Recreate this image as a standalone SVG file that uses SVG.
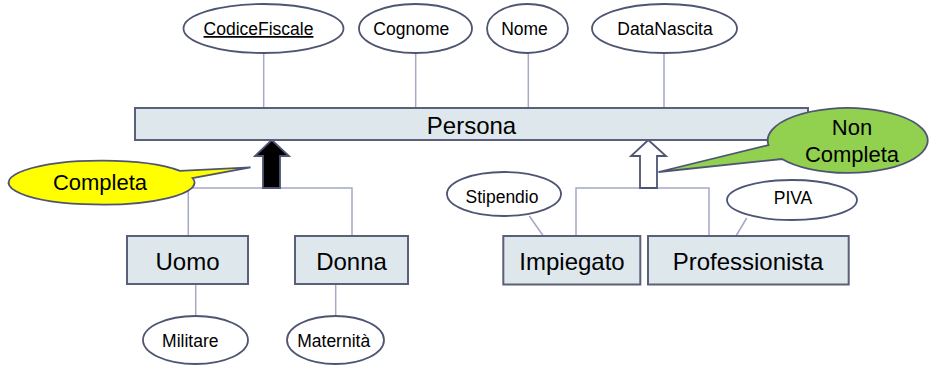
<svg xmlns="http://www.w3.org/2000/svg" width="931" height="366" viewBox="0 0 931 366">
<style>
.ent{fill:#DDE7EC;stroke:#5A6079;stroke-width:2}
.att{fill:#FFFFFF;stroke:#4E5573;stroke-width:1.8}
.conn{fill:none;stroke:#A3A9C6;stroke-width:1.5}
.et{font-family:"Liberation Sans",Arial,sans-serif;font-size:24px;fill:#000;text-anchor:middle}
.at{font-family:"Liberation Sans",Arial,sans-serif;font-size:17.5px;fill:#000;text-anchor:middle}
.ct{font-family:"Liberation Sans",Arial,sans-serif;font-size:22px;fill:#000;text-anchor:middle}
.callout{stroke:#4E5573;stroke-width:1.8}
</style>
<rect width="931" height="366" fill="#FFFFFF"/>
<g id="connectors">
<line class="conn" x1="263.7" y1="53" x2="263.7" y2="108"/>
<line class="conn" x1="415.7" y1="53" x2="415.7" y2="108"/>
<line class="conn" x1="528.3" y1="53" x2="528.3" y2="108"/>
<line class="conn" x1="664" y1="53" x2="664" y2="108"/>
<polyline class="conn" points="188.3,236 188.3,188 352,188 352,236"/>
<polyline class="conn" points="576,236 576,188 709,188 709,236"/>
<line class="conn" x1="195.7" y1="284" x2="195.7" y2="316"/>
<line class="conn" x1="335.7" y1="284" x2="335.7" y2="316"/>
<line class="conn" x1="529.3" y1="216" x2="543.3" y2="236"/>
<line class="conn" x1="746.7" y1="218" x2="736" y2="236"/>
<polygon id="arrow-completa" points="271.7,140 289,156 280,156 280,188 263,188 263,156 255,156" fill="#000000" stroke="#4E5573" stroke-width="1.8"/>
<polygon id="arrow-noncompleta" points="648.3,140 666,156 657,156 657,188 640,188 640,156 631,156" fill="#FFFFFF" stroke="#4E5573" stroke-width="1.8"/>
</g>
<g id="Persona">
<rect class="ent" x="135" y="108" width="673" height="32"/>
<text class="et" x="471.5" y="134">Persona</text>
</g>
<g id="CodiceFiscale">
<ellipse class="att" cx="263.5" cy="28.5" rx="80" ry="24.5"/>
<text class="at" x="258.5" y="35" text-decoration="underline">CodiceFiscale</text>
</g>
<g id="Cognome">
<ellipse class="att" cx="415.5" cy="28.5" rx="56.5" ry="24.5"/>
<text class="at" x="411.3" y="35">Cognome</text>
</g>
<g id="Nome">
<ellipse class="att" cx="527.5" cy="28.5" rx="40.5" ry="24.5"/>
<text class="at" x="524.5" y="35">Nome</text>
</g>
<g id="DataNascita">
<ellipse class="att" cx="664.5" cy="28.5" rx="72.5" ry="24.5"/>
<text class="at" x="665" y="35">DataNascita</text>
</g>
<g id="Uomo">
<rect class="ent" x="127" y="236" width="121" height="48"/>
<text class="et" x="187.5" y="270">Uomo</text>
</g>
<g id="Donna">
<rect class="ent" x="295" y="236" width="113" height="48"/>
<text class="et" x="351.5" y="270">Donna</text>
</g>
<g id="Impiegato">
<rect class="ent" x="503.3" y="236" width="137" height="48.5"/>
<text class="et" x="572" y="270">Impiegato</text>
</g>
<g id="Professionista">
<rect class="ent" x="648" y="236" width="200.7" height="48.5"/>
<text class="et" x="748" y="270">Professionista</text>
</g>
<g id="Militare">
<ellipse class="att" cx="195.5" cy="340" rx="52.5" ry="24"/>
<text class="at" x="190.3" y="346.5">Militare</text>
</g>
<g id="Maternita">
<ellipse class="att" cx="335.5" cy="340" rx="48.5" ry="24"/>
<text class="at" x="333.7" y="346.5">Maternità</text>
</g>
<g id="Stipendio">
<ellipse class="att" cx="504" cy="194" rx="57" ry="22"/>
<text class="at" x="502" y="202.5">Stipendio</text>
</g>
<g id="PIVA">
<ellipse class="att" cx="792" cy="200" rx="65" ry="20"/>
<text class="at" x="793" y="203.5">PIVA</text>
</g>
<g id="callout-completa">
<path class="callout" fill="#FFFF00" d="M180,170.8 A93,22 0 1,0 192.5,178 L250.5,167.3 Z"/>
<text class="ct" x="100" y="189.5">Completa</text>
</g>
<g id="callout-noncompleta">
<path class="callout" fill="#92D050" d="M768.5,145 A80,32.5 0 1,1 782,159 L658.5,172 Z"/>
<text class="ct" x="852" y="135">Non</text>
<text class="ct" x="852" y="162">Completa</text>
</g>
</svg>
